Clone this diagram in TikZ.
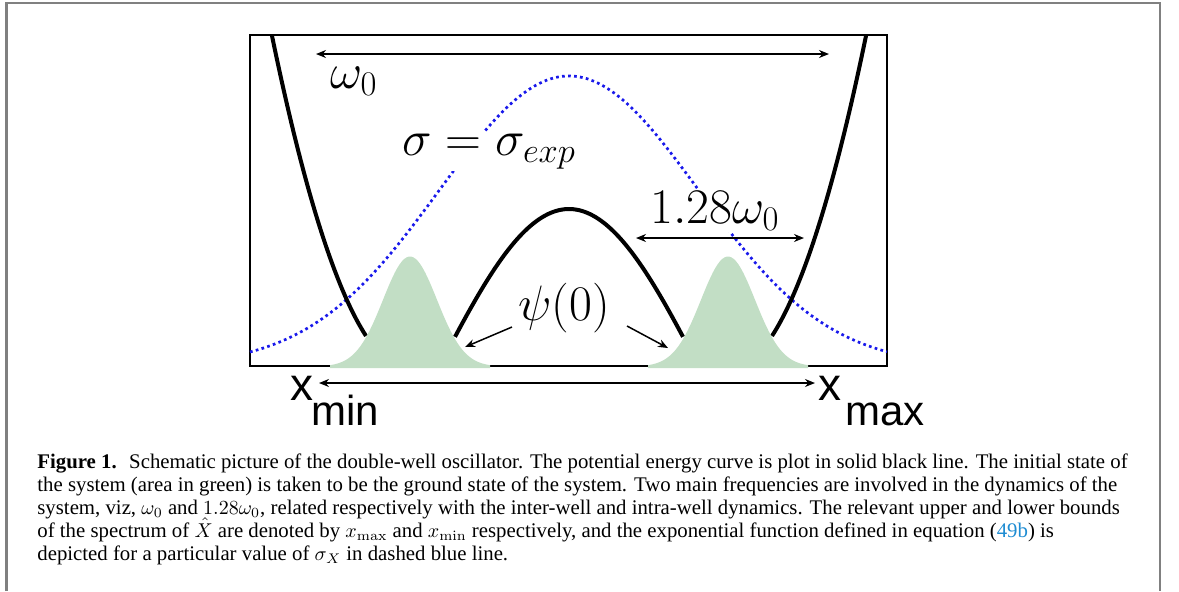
\documentclass[tikz,border=0pt]{standalone}
\usepackage[no-math]{fontspec}
\setmainfont{Liberation Serif}
\newfontfamily\arialf{Liberation Sans}
\usetikzlibrary{arrows.meta}
\definecolor{wellgreen}{RGB}{194,222,197}
\definecolor{dotblue}{RGB}{25,25,235}
\definecolor{framegrey}{RGB}{128,128,128}
\definecolor{linkblue}{RGB}{30,140,210}
\begin{document}
\begin{tikzpicture}[x=0.5pt,y=-0.5pt,
  frame/.style={draw=framegrey,line width=1.3pt},
  boxline/.style={draw=black,line width=1.3pt},
  pot/.style={draw=black,line width=2pt},
  expc/.style={draw=dotblue,line width=1.35pt,dash pattern=on 1.35pt off 1.65pt},
  darr/.style={line width=0.75pt,{Stealth[length=5pt,width=4pt]}-{Stealth[length=5pt,width=4pt]}},
  sarr/.style={line width=0.75pt,-{Stealth[length=5pt,width=4pt]}},
  mlab/.style={font=\fontsize{25}{30}\selectfont,inner sep=1pt,fill=white,anchor=base west},
  xlab/.style={font=\arialf\fontsize{23}{28}\selectfont,inner sep=0pt,anchor=base west},
  xsub/.style={font=\arialf\fontsize{21}{25}\selectfont,inner sep=0pt,anchor=base west},
  capline/.style={font=\fontsize{10.4}{12}\selectfont,inner sep=0pt,anchor=base west}]
\useasboundingbox (0,0) rectangle (1179,591);
% outer frame
\draw[frame] (6.5,591) -- (6.5,3) -- (1160,3) -- (1160,591);
% inner box
\draw[boxline] (250,35) rectangle (887,366);
% exponential (blue dotted)
\draw[expc] plot[domain=250:887,samples=160] (\x,{366-290*exp(-((\x-569)/129.6)^2/2)});
% potential
\draw[pot] plot[domain=272:366,samples=40] (\x,{369.9-(0.13244*(410-\x))^2});
\draw[pot] plot[domain=455:683,samples=80] (\x,{366-157*cos((\x-569)*0.6955)});
\draw[pot] plot[domain=772:866,samples=40] (\x,{369.9-(0.13244*(\x-728))^2});
% wave packets
\fill[wellgreen] (330,368) -- plot[domain=330:490,samples=70] (\x,{366.5-110*exp(-((\x-410)/27)^2/2)}) -- (490,368) -- cycle;
\fill[wellgreen] (648,368) -- plot[domain=648:808,samples=70] (\x,{366.5-110*exp(-((\x-728)/27)^2/2)}) -- (808,368) -- cycle;
% arrow end points
\coordinate (w0L) at (316,54);
\coordinate (w0R) at (829,54);
\coordinate (fL) at (636,238);
\coordinate (fR) at (804,238);
\coordinate (xL) at (319,383);
\coordinate (xR) at (815,383);
\coordinate (pA1) at (512,327);
\coordinate (pT1) at (465,347);
\coordinate (pA2) at (627,326);
\coordinate (pT2) at (668,348);
\draw[darr] (w0L) -- (w0R);
\draw[darr] (fL) -- (fR);
\draw[darr] (xL) -- (xR);
\draw[sarr] (pA1) -- (pT1);
\draw[sarr] (pA2) -- (pT2);
% labels
\node[mlab] (lw0) at (328,88) {$\omega_0$};
\node[mlab] (lsig) at (400,155) {$\sigma=\sigma_{exp}$};
\node[mlab] (lf) at (648,223) {$1.28\omega_0$};
\node[mlab,fill=none] (lpsi) at (516,320) {$\psi(0)$};
\node[xlab] (xmn) at (290,400) {x};
\node[xsub] (xmns) at (311,425) {min};
\node[xlab] (xmx) at (818,400) {x};
\node[xsub] (xmxs) at (845,425) {max};
% caption
\node[capline] (cap1) at (37,468) {\textbf{Figure 1.}\hspace{0.6em}Schematic picture of the double-well oscillator. The potential energy curve is plot in solid black line. The initial state of};
\node[capline] (cap2) at (37,491) {the system (area in green) is taken to be the ground state of the system. Two main frequencies are involved in the dynamics of the};
\node[capline] (cap3) at (37,514) {system, viz, $\omega_0$ and $1.28\omega_0$, related respectively with the inter-well and intra-well dynamics. The relevant upper and lower bounds};
\node[capline] (cap4) at (37,537) {of the spectrum of $\smash{\hat{X}}$ are denoted by $x_{\max}$ and $x_{\min}$ respectively, and the exponential function defined in equation (\textcolor{linkblue}{49b}) is};
\node[capline] (cap5) at (37,560) {depicted for a particular value of $\sigma_X$ in dashed blue line.};
\end{tikzpicture}
\end{document}
